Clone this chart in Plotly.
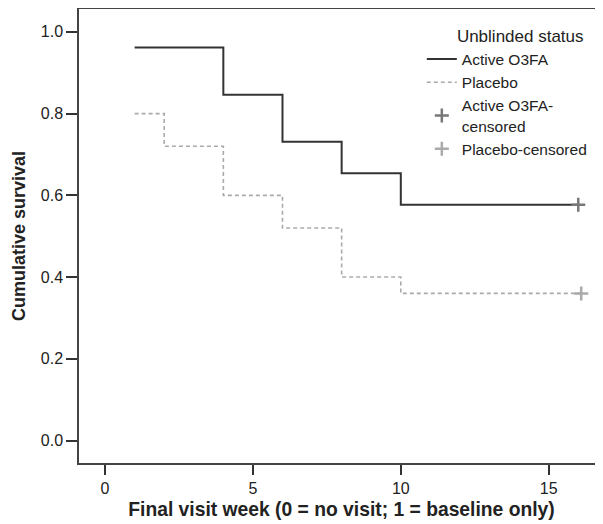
import plotly.graph_objects as go

# Data
active_weeks = [1, 4, 6, 8, 10, 16]
active_surv = [0.962, 0.846, 0.731, 0.654, 0.577, 0.577]
placebo_weeks = [1, 2, 4, 6, 8, 10, 16.1]
placebo_surv = [0.80, 0.72, 0.60, 0.52, 0.40, 0.36, 0.36]
active_cens_weeks = [16]
active_cens_surv = [0.577]
placebo_cens_weeks = [16.1]
placebo_cens_surv = [0.36]

x_ticks = [0, 5, 10, 15]
y_ticks = [0.0, 0.2, 0.4, 0.6, 0.8, 1.0]

FONT = "Liberation Sans, Arial, Helvetica, sans-serif"
NB = "\u00a0"

fig = go.Figure()
fig.add_trace(go.Scatter(
    x=active_weeks, y=active_surv, mode="lines", line_shape="hv",
    line=dict(color="#333333", width=2), name="Active O3FA"))
fig.add_trace(go.Scatter(
    x=placebo_weeks, y=placebo_surv, mode="lines", line_shape="hv",
    line=dict(color="#aaaaaa", width=1.6, dash="4px,3px"), name="Placebo"))
fig.add_trace(go.Scatter(
    x=active_cens_weeks, y=active_cens_surv, mode="markers",
    marker=dict(symbol="cross-thin", size=10, line=dict(color="#777777", width=2.5)),
    name="Active O3FA-<br>censored"))
fig.add_trace(go.Scatter(
    x=placebo_cens_weeks, y=placebo_cens_surv, mode="markers",
    marker=dict(symbol="cross-thin", size=10, line=dict(color="#aaaaaa", width=2.5)),
    name="Placebo-censored"))

fig.update_layout(
    width=603, height=524,
    margin=dict(l=71, r=7, t=1, b=69),
    paper_bgcolor="white", plot_bgcolor="white",
    font=dict(family=FONT, size=15, color="#222222"),
    showlegend=True,
    legend=dict(
        x=0.653, y=0.975, xanchor="left", yanchor="top",
        title=dict(text=NB * 7 + "Unblinded status", font=dict(size=17, color="#222222"), side="top"),
        font=dict(size=15.5, color="#222222"),
        bgcolor="rgba(0,0,0,0)", itemwidth=30, tracegroupgap=1,
    ),
    xaxis=dict(
        automargin=False,
        range=[-0.88, 16.87], tickvals=x_ticks, ticks="outside", ticklen=10,
        tickcolor="#333333", tickwidth=1.5, showgrid=False, zeroline=False,
        showline=True, linecolor="#444444", linewidth=1.5, mirror=True,
        tickfont=dict(size=16, color="#222222"),
        title=dict(text="<b>Final visit week (0 = no visit; 1 = baseline only)</b>" + NB * 3,
                   font=dict(size=19.3, color="#222222"), standoff=7),
    ),
    yaxis=dict(
        automargin=False,
        range=[-0.055, 1.056], tickvals=y_ticks, tickformat=".1f", ticks="outside",
        ticklen=11, tickcolor="#333333", tickwidth=1.5, showgrid=False, zeroline=False,
        showline=True, linecolor="#444444", linewidth=1.5, mirror=False,
        tickfont=dict(size=16, color="#222222"),
        title=dict(text="<b>Cumulative survival</b>" + NB * 2,
                   font=dict(size=18, color="#222222"), standoff=10),
    ),
)

fig.write_html("out.html")
